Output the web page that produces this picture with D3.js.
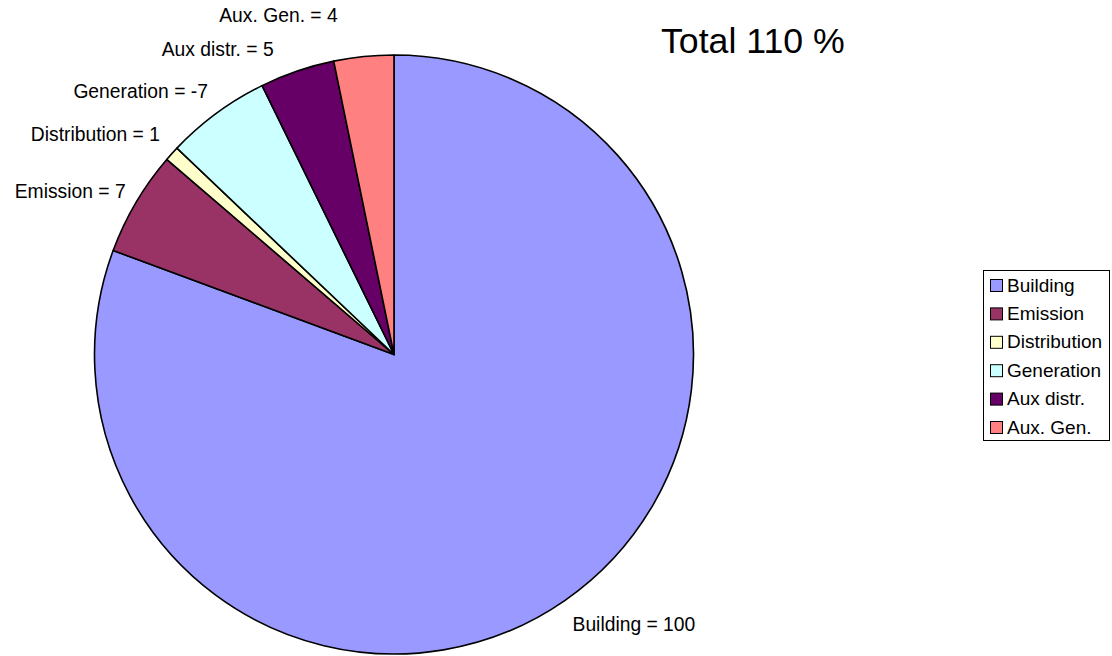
<!DOCTYPE html>
<html>
<head>
<meta charset="utf-8">
<script src="https://cdn.jsdelivr.net/npm/d3@7"></script>
<style>
  html, body { margin: 0; padding: 0; background: #fff; }
  svg { display: block; font-family: "Liberation Sans", Arial, sans-serif; }
</style>
</head>
<body>
<svg id="chart" width="1112" height="656"></svg>
<script>
// Energy balance components
const categories = ["Building", "Emission", "Distribution", "Generation", "Aux distr.", "Aux. Gen."];
const values = [100, 7, 1, -7, 5, 4];
const colors = ["#9999FF", "#993366", "#FFFFCC", "#CCFFFF", "#660066", "#FF8080"];

const svg = d3.select("#chart");
const cx = 394, cy = 354.5, radius = 299.5;

const data = categories.map((c, i) => ({ name: c, value: values[i], color: colors[i] }));

// slices are sized by magnitude; the label keeps the signed value
const pie = d3.pie().sort(null).value(d => Math.abs(d.value));
const arcs = pie(data);
const arc = d3.arc().innerRadius(0).outerRadius(radius);

const g = svg.append("g").attr("transform", `translate(${cx},${cy})`);

g.selectAll("path.slice")
  .data(arcs)
  .enter().append("path")
  .attr("class", "slice")
  .attr("d", arc)
  .attr("fill", d => d.data.color)
  .attr("stroke", "#000")
  .attr("stroke-width", 1.6)
  .attr("stroke-linejoin", "round");

// data labels just outside the rim, with small nudges to keep them apart
const labelR = radius + 20;
const nudge = {
  "Building": [-4, 8],
  "Emission": [7, -1],
  "Distribution": [3, -6],
  "Generation": [3, -6],
  "Aux distr.": [-17, -3],
  "Aux. Gen.": [-24, -21]
};
g.selectAll("text.lbl")
  .data(arcs)
  .enter().append("text")
  .attr("class", "lbl")
  .each(function(d) {
    const a = (d.startAngle + d.endAngle) / 2;
    const n = nudge[d.data.name] || [0, 0];
    const x = Math.sin(a) * labelR + n[0];
    const y = -Math.cos(a) * labelR + n[1];
    d3.select(this)
      .attr("x", x)
      .attr("y", y)
      .attr("dy", "0.35em")
      .attr("text-anchor", Math.sin(a) < 0 ? "end" : "start");
  })
  .attr("font-size", 19.3)
  .attr("fill", "#000")
  .text(d => `${d.data.name} = ${d.data.value}`);

// title with the signed total
svg.append("text")
  .attr("x", 661)
  .attr("y", 53)
  .attr("font-size", 35.7)
  .attr("fill", "#000")
  .text(`Total ${d3.sum(values)} %`);

// legend
const lg = svg.append("g");
lg.append("rect")
  .attr("x", 983.5).attr("y", 270.5)
  .attr("width", 126).attr("height", 170)
  .attr("fill", "#fff").attr("stroke", "#000").attr("stroke-width", 1);

const rowY = d3.scalePoint().domain(categories).range([285, 427]);
const rows = lg.selectAll("g.row").data(data).enter().append("g")
  .attr("class", "row")
  .attr("transform", d => `translate(0,${rowY(d.name)})`);
rows.append("rect")
  .attr("x", 990.5).attr("y", -5.5)
  .attr("width", 12).attr("height", 12)
  .attr("fill", d => d.color)
  .attr("stroke", "#000").attr("stroke-width", 1);
rows.append("text")
  .attr("x", 1007).attr("y", 0).attr("dy", "0.35em")
  .attr("font-size", 19)
  .attr("fill", "#000")
  .text(d => d.name);
</script>
</body>
</html>
